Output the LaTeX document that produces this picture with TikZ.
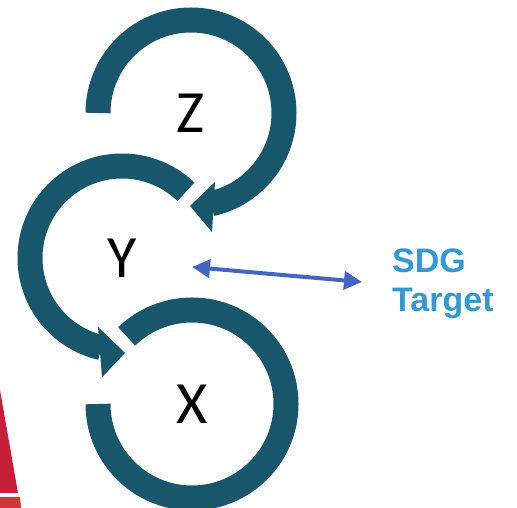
\documentclass[tikz,border=0pt]{standalone}
\usepackage{fontspec}
\setmainfont{Carlito}
\newfontfamily\sdgfont{Liberation Sans}
\usetikzlibrary{arrows.meta}
\definecolor{ringc}{HTML}{17566B}
\definecolor{sdgred}{HTML}{C61F3A}
\definecolor{sdgred2}{HTML}{D0363A}
\definecolor{arrblue}{HTML}{4466C2}
\definecolor{txtblue}{HTML}{3399D6}
\tikzset{
  ring/.style={draw=ringc, line width=25pt, line cap=butt},
  ringhead/.style={fill=ringc},
  lbl/.style={font=\fontsize{60}{60}\selectfont, text=black, inner sep=0pt},
  dbl/.style={draw=arrblue, line width=4pt, {Triangle[length=18pt,width=18pt]}-{Triangle[length=18pt,width=18pt]}},
  sdgtxt/.style={font=\sdgfont\bfseries\fontsize{34}{39}\selectfont, text=txtblue, inner sep=0pt, anchor=base west}
}
\begin{document}
\begin{tikzpicture}[x=1pt,y=1pt]
\useasboundingbox (0,0) rectangle (517,508);
% red wheel fragment
\fill[sdgred] (0,118) -- (18,15) -- (0,15) -- cycle;
\fill[sdgred2] (0,11) -- (20,11) -- (21,0) -- (0,0) -- cycle;
% Z ring
\begin{scope}[shift={(191,395)}]
  \draw[ring] (180:93) arc[start angle=180, end angle=-77.5, radius=93];
  \fill[ringhead] (-70.8:73) -- (-90.6:93) -- (-80:121) -- cycle;
  \node[lbl] (Z) at (0,0) {Z};
\end{scope}
% Y ring
\begin{scope}[shift={(122,250)}]
  \draw[ring] (46:92) arc[start angle=46, end angle=257, radius=92];
  \fill[ringhead] (250.8:73) -- (271.8:95) -- (260.5:121) -- cycle;
  \node[lbl] (Y) at (0,0) {Y};
\end{scope}
% X ring
\begin{scope}[shift={(192,104)}]
  \draw[ring] (180:94) arc[start angle=180, end angle=494, radius=94];
  \node[lbl] (X) at (0,0) {X};
\end{scope}
% SDG target
\node[sdgtxt] (sdg) at (392,235) {SDG};
\node[sdgtxt] (target) at (392,196) {Target};
\coordinate (ya) at (192,241);
\coordinate (sa) at (362,226);
\draw[dbl] (ya) -- (sa);
\end{tikzpicture}
\end{document}
